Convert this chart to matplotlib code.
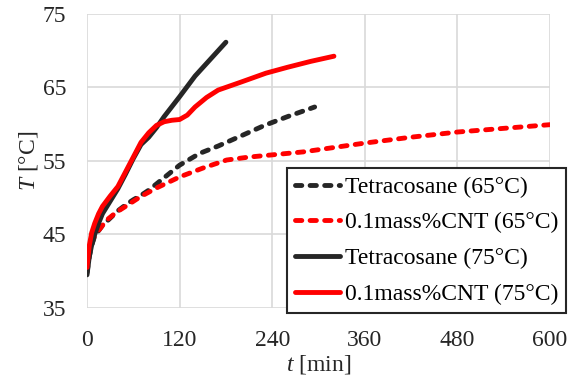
import numpy as np
import matplotlib
matplotlib.use('Agg')
import matplotlib.pyplot as plt

# Tetracosane (75C), black solid
t_tc75 = [0, 3, 6, 10, 15, 20, 30, 40, 50, 60, 70, 80, 90, 100, 120, 140, 160, 180]
T_tc75 = [39.5, 42.0, 43.5, 45.0, 46.5, 47.8, 49.5, 51.2, 53.2, 55.3, 57.2, 58.2, 59.5, 61.0, 63.7, 66.5, 68.8, 71.1]

# 0.1mass%CNT (75C), red solid
t_cnt75 = [0, 3, 6, 10, 15, 20, 30, 40, 50, 60, 70, 80, 90, 100, 110, 120, 130, 140, 155, 170, 200, 232, 260, 290, 320]
T_cnt75 = [40.5, 43.5, 45.2, 46.5, 47.8, 48.8, 50.2, 51.5, 53.5, 55.5, 57.5, 58.8, 59.8, 60.3, 60.5, 60.6, 61.2, 62.3, 63.6, 64.6, 65.7, 66.9, 67.7, 68.5, 69.2]

# Tetracosane (65C), black dashed
t_tc65 = [0, 3, 6, 10, 20, 30, 40, 50, 60, 70, 80, 100, 120, 146, 170, 198, 230, 260, 295]
T_tc65 = [39.8, 42.0, 43.5, 44.8, 46.2, 47.2, 48.2, 49.0, 49.7, 50.3, 51.0, 52.7, 54.4, 56.0, 57.0, 58.3, 59.8, 61.0, 62.3]

# 0.1mass%CNT (65C), red dashed
t_cnt65 = [0, 3, 6, 10, 17, 25, 38, 50, 69, 90, 120, 150, 181, 210, 240, 280, 320, 360, 420, 480, 540, 600]
T_cnt65 = [40.0, 42.5, 44.0, 44.8, 45.8, 46.9, 48.0, 48.8, 50.1, 51.3, 52.8, 54.0, 55.1, 55.5, 55.8, 56.2, 56.8, 57.4, 58.2, 58.9, 59.4, 59.9]

xticks = [0, 120, 240, 360, 480, 600]
yticks = [35, 45, 55, 65, 75]

plt.rcParams['font.family'] = ['Liberation Serif', 'DejaVu Serif']
plt.rcParams['mathtext.fontset'] = 'custom'
plt.rcParams['mathtext.it'] = 'Liberation Serif:italic'
plt.rcParams['mathtext.rm'] = 'Liberation Serif'

fig = plt.figure(figsize=(5.71, 3.88), dpi=100)
ax = fig.add_axes([87/571, 80/388, 463/571, 294.5/388])

dash = (0, (1.3, 1.7))
lw = 3.5
blk = '#262626'
ax.plot(t_tc65, T_tc65, color=blk, lw=lw, linestyle=dash, dash_capstyle='round', label='Tetracosane (65°C)')
ax.plot(t_cnt65, T_cnt65, color='#ff0000', lw=lw, linestyle=dash, dash_capstyle='round', label='0.1mass%CNT (65°C)')
ax.plot(t_tc75, T_tc75, color=blk, lw=lw, solid_capstyle='round', label='Tetracosane (75°C)')
ax.plot(t_cnt75, T_cnt75, color='#ff0000', lw=lw, solid_capstyle='round', label='0.1mass%CNT (75°C)')

ax.set_xlim(0, 600)
ax.set_ylim(35, 75)
ax.set_xticks(xticks)
ax.set_yticks(yticks)
ax.grid(True, color='#d9d9d9', linewidth=1.2)
ax.set_axisbelow(True)
for s in ax.spines.values():
    s.set_visible(False)
ax.tick_params(length=0, labelsize=17, colors='#262626')
ax.tick_params(axis='x', pad=16)
ax.tick_params(axis='y', pad=15)

ax.set_xlabel('$t$ [min]', fontsize=17, color='#262626', labelpad=1)
ax.set_ylabel('$T$ [°C]', fontsize=17, color='#262626', labelpad=2)

leg = fig.legend(loc='upper left', bbox_to_anchor=(287/571, 1 - 168/388), fontsize=17,
                 frameon=True, fancybox=False, handlelength=1.9, handletextpad=0.2,
                 borderpad=0.35, labelspacing=0.6, borderaxespad=0)
leg.get_frame().set_edgecolor('#262626')
leg.get_frame().set_linewidth(1.5)
leg.get_frame().set_alpha(1)

plt.savefig('out.png', dpi=100)
